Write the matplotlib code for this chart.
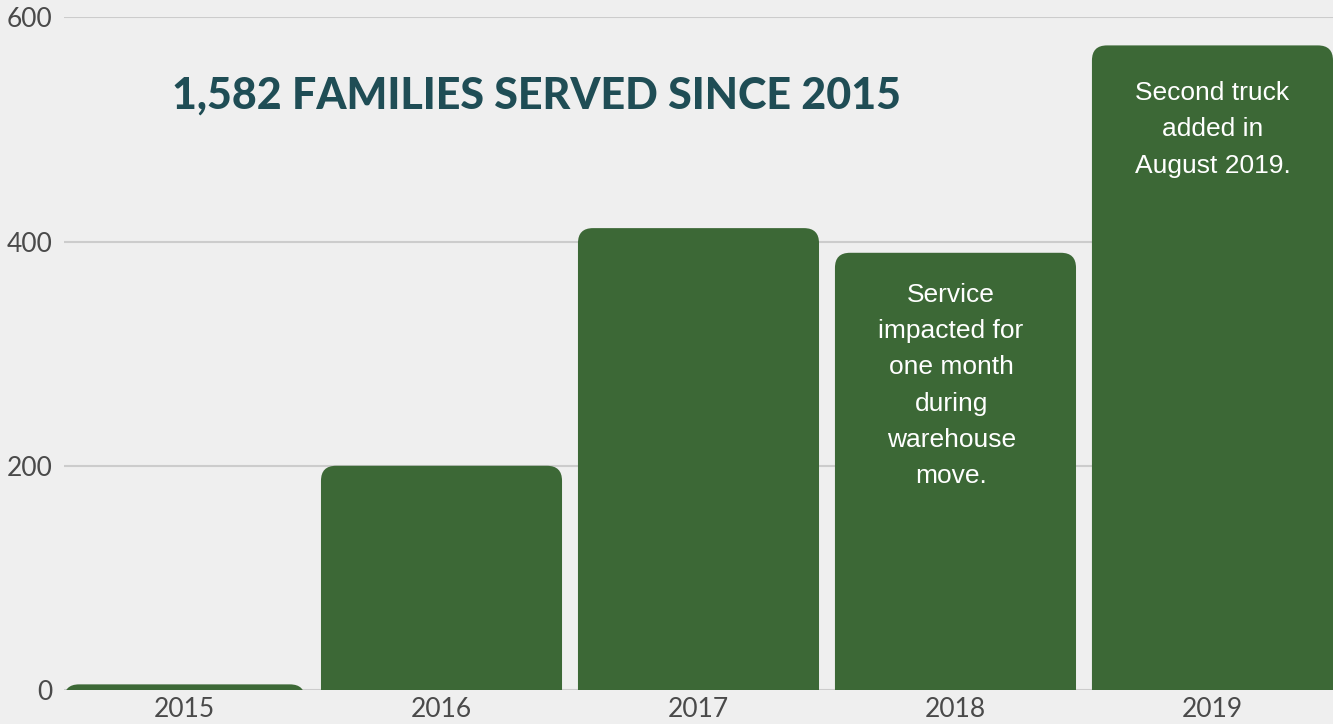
import matplotlib
matplotlib.use("Agg")
from matplotlib import pyplot as plt
from matplotlib.patches import FancyBboxPatch, BoxStyle

years = ['2015', '2016', '2017', '2018', '2019']
families = [5, 200, 412, 390, 575]
notes = {3: 'Service\nimpacted for\none month\nduring\nwarehouse\nmove.',
         4: 'Second truck\nadded in\nAugust 2019.'}
note_drop = {3: 27, 4: 32}
note_shift = {3: -0.017, 4: 0.0}
title = '1,582 FAMILIES SERVED SINCE 2015'

bg = '#efefef'
green = '#3c6836'

fig = plt.figure(figsize=(13.33, 7.24), dpi=100, facecolor=bg)
ax = fig.add_axes([0.048, 0.047, 0.952, 0.929], facecolor=bg)

x = range(len(years))
bars = ax.bar(x, families, width=0.938, color=green)
ax.set_xlim(-0.469, len(years) - 1 + 0.469)
ax.set_ylim(0, 600)

# swap plain bars for ones with rounded top corners
px_x = 1269 / 4.938
px_y = 673 / 600
for rect in bars:
    rect.set_visible(False)
    bx, bw, bh = rect.get_x(), rect.get_width(), rect.get_height()
    ax.add_patch(FancyBboxPatch((bx, -30), bw, bh + 30,
                                boxstyle=BoxStyle.Round(pad=0, rounding_size=15 / px_x),
                                mutation_aspect=px_x / px_y,
                                facecolor=green, edgecolor='none', zorder=2))

ax.set_yticks([0, 200, 400, 600])
ax.set_xticks(list(x))
ax.set_xticklabels(years)
ax.grid(axis='y', color='#cccccc', linewidth=1.5)
ax.set_axisbelow(True)
for s in ax.spines.values():
    s.set_visible(False)
ax.tick_params(length=0, labelsize=19, labelcolor='#4a4a4a')
ax.tick_params(axis='x', pad=5)
ax.tick_params(axis='y', pad=8)
for lab in ax.get_xticklabels() + ax.get_yticklabels():
    lab.set_family('Lato')

for i, txt in notes.items():
    ax.text(i + note_shift[i], families[i] - note_drop[i], txt, ha='center', va='top',
            color='white', fontsize=19, family='Liberation Sans',
            linespacing=1.64, zorder=3)

ax.text(1.37, 530, title, ha='center', va='center', color='#1f4d55',
        fontsize=31, fontweight='black', family='Lato', zorder=3)

fig.savefig('out.png', dpi=100, facecolor=bg)
